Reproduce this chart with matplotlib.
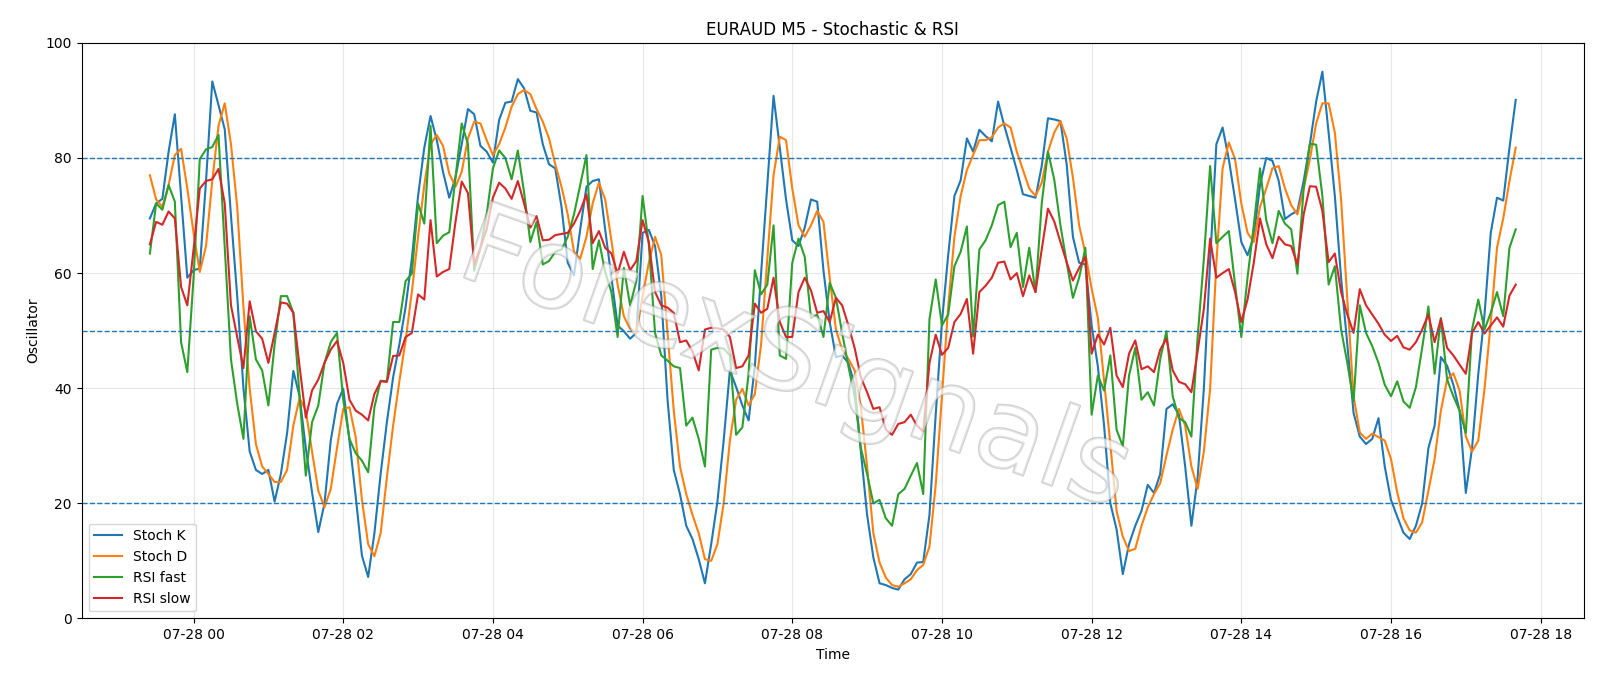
import numpy as np
import pandas as pd
import matplotlib
matplotlib.use("Agg")
import matplotlib.pyplot as plt
import matplotlib.dates as mdates
import matplotlib.patheffects as pe

# 5-minute bars, 2025-07-27 23:25 .. 2025-07-28 17:40
start = "2025-07-27 23:25"

stoch_k = [
    69.5, 72.1, 72.9, 81.1, 87.6, 73.4, 59.2, 60.5, 60.8, 76, 93.3, 89.2, 85.0, 70, 56, 40,
    29, 25.8, 25.1, 25.8, 20.3, 25.1, 32.2, 43, 38.6, 29.6, 21.9, 15, 20, 30.9, 37.3, 39.9,
    30.9, 21.2, 10.9, 7.2, 14.8, 25.1, 34.1, 41.9, 47.6, 54.1, 62.5, 73.4, 81.8, 87.3, 83.1,
    77.6, 73.1, 76.6, 82.4, 88.5, 87.6, 82.1, 81.1, 79.2, 86.6, 89.6, 89.8, 93.7, 92.1, 88.2, 87.9,
    82.4, 78.9, 78.2, 71.5, 61.8, 59.6, 67.6, 75, 76, 76.3, 67.6, 59.2, 50.9, 49.9, 48.6,
    49.6, 67, 67.5, 64.7, 56, 38, 25.8, 21.6, 16.1, 13.8, 10.3, 6.1, 12.9, 20.3, 30.9, 43.1,
    40.2, 37, 34.4, 43.8, 59.9, 75.3, 90.8, 81.8, 72.8, 65.7, 64.7, 67.9, 72.8, 72.4, 60.5, 51.5,
    45.4, 45.7, 44.4, 40.6, 29, 18, 10.6, 6.1, 5.8, 5.3, 5, 6.8, 7.7, 9.7, 9.8, 18,
    35.4, 51.5, 63.1, 73.4, 76.1, 83.4, 81.1, 84.9, 83.8, 82.9, 89.8, 85.6, 81.8, 77.9, 73.7,
    73.4, 73.1, 78.6, 86.9, 86.7, 86.4, 78.9, 66.3, 61.8, 61.5, 50.9, 43.8, 33.5, 20, 15.5, 7.7,
    12.9, 16.1, 18.7, 23.2, 21.8, 25.1, 36.4, 37.2, 35.4, 26.4, 16.1, 24.5, 40, 62, 82.4, 85.3,
    79.8, 72.8, 65.4, 63.1, 66.3, 75.3, 80, 79.5, 76, 69.4, 70.2, 70.8, 76, 82.4, 89.8,
    95, 84.4, 73.4, 59.2, 47.6, 35.7, 31.6, 30.3, 31.2, 34.8, 26.4, 20.6, 17.7, 14.9, 13.8, 16.1,
    20, 29.6, 33.5, 45.4, 43.9, 40.6, 36.1, 21.8, 29.6, 42.5, 52.8, 67, 73.1, 72.6, 81.8, 90.1,
]

stoch_d = [
    77, 72.8, 71.5, 75.3, 80.5, 81.6, 74.7, 67, 60.2, 64.7, 76, 85.6, 89.5, 82.4, 71.5, 54.1,
    39.9, 30.3, 26.4, 25.1, 23.7, 23.7, 25.8, 33.5, 38.3, 36.1, 29, 22.2, 19.3, 22.5, 29.6, 36.4,
    36.7, 31.5, 20.6, 12.9, 10.8, 14.8, 24.5, 33.5, 41.2, 48.3, 56.7, 66.3, 75.3, 82.4, 84,
    82.1, 77.3, 75, 77.6, 83.4, 86.3, 86, 83.1, 80.5, 82.4, 85.3, 88.9, 91.1, 91.8, 91.1, 88.5,
    86.3, 83.4, 78.9, 75, 70.2, 63.7, 62.5, 66.3, 72.1, 75.7, 72.8, 65.7, 58, 52.5, 50.3,
    49.6, 56, 61.8, 66.3, 63.1, 49.6, 36.1, 26.4, 21.6, 18, 14.8, 10.3, 10, 12.9, 20, 30.9,
    38, 39.9, 37, 39, 47.6, 62.5, 77, 83.7, 83.1, 74.7, 68.3, 66.3, 68.3, 70.8, 68.9, 59.2,
    50.2, 46.7, 45.1, 43.1, 36.7, 26.4, 14.8, 9.7, 7.1, 5.8, 5.5, 6.1, 6.8, 8.4, 9.3, 12.5,
    23.2, 38.6, 54.1, 66.3, 73.4, 77.9, 80.5, 83.1, 83.1, 83.6, 85.3, 86, 85.3, 81.1, 77.9,
    74.7, 73.4, 75.7, 81.1, 84.4, 86.4, 83.4, 76.6, 68.3, 63.4, 57.3, 52.2, 41.2, 30.3, 18.7, 14.2,
    11.7, 12.1, 16.1, 19.3, 21.6, 23.5, 28.3, 32.8, 36.4, 33.5, 26.4, 22.5, 29, 39.9, 61.8, 78.2,
    82.7, 79.8, 72.1, 67, 65.4, 71.5, 74.7, 78.2, 78.6, 74.7, 71.8, 70.2, 74.7, 79.8, 86,
    89.5, 89.5, 84.4, 72.8, 55.4, 38.6, 32.3, 31.2, 32.1, 31.5, 30.9, 27.7, 21.9, 17.4, 15.3, 14.9,
    16.7, 22.2, 27.7, 36.1, 41.5, 42.6, 39.6, 31.6, 29, 30.9, 39.9, 51.5, 64.4, 69.5, 76, 81.8,
]

rsi_fast = [
    63.4, 72.1, 71, 75.3, 72.4, 48, 42.8, 59.2, 79.8, 81.5, 81.9, 84, 64.4, 45, 37.3, 31.2,
    52.5, 45, 43.1, 37, 47.6, 56, 56, 53.1, 38.6, 24.8, 34.1, 37, 44.4, 48, 49.6, 38,
    31.2, 28.7, 27.4, 25.4, 36.7, 41.3, 41.2, 51.5, 51.5, 58.6, 59.9, 72.1, 68.6, 85.6, 65.2,
    66.5, 67.1, 76.6, 86, 82.4, 60.4, 64.4, 70.2, 78.2, 81.3, 80, 76.3, 81.3, 74, 65.4, 68.9,
    61.5, 62.1, 63.7, 64.1, 66.3, 70.2, 75.3, 80.5, 60.7, 65.7, 60.2, 56.7, 48.9, 60.9, 54.4,
    58.6, 73.4, 65, 49.6, 45.7, 44.8, 43.8, 43.5, 33.5, 34.9, 31.2, 26.4, 46.7, 47, 46.9, 45.7,
    31.9, 33.2, 42.5, 60.5, 56.3, 58, 68.3, 45.7, 45.1, 61.8, 66, 62.8, 52.2, 52.8, 48.9, 58.3,
    55.7, 49.6, 43.8, 38.6, 29.6, 25.1, 20, 20.6, 17.4, 16.1, 21.6, 22.5, 24.8, 27, 21.6, 52,
    58.9, 50.9, 52.8, 61.2, 63.7, 68.1, 49, 64.1, 65.7, 68.3, 71.8, 72.4, 64.5, 67, 57.6,
    64.4, 56.7, 72.1, 81.1, 76.3, 68.3, 61.8, 55.7, 59.2, 64.4, 35.4, 42.2, 39.6, 45.7, 32.8, 29.9,
    42.2, 47, 38, 39.3, 37, 45.1, 49.9, 38.6, 34.8, 34.1, 31.6, 48.9, 62.5, 78.6, 65.2, 66.3,
    67.3, 58, 48.9, 59.2, 68.3, 78.2, 69.2, 65.2, 70.8, 68.6, 67.6, 59.9, 74.7, 82.5, 82.3,
    73.4, 58, 61.2, 50.2, 44.4, 37.7, 54.4, 49.6, 47.3, 44.4, 40.6, 38.6, 41.2, 37.7, 36.6, 40.2,
    47, 54.2, 42.5, 52.2, 41.5, 38.6, 36.1, 32.2, 50.2, 55.4, 50.2, 53.1, 56.7, 52.5, 64.4, 67.6,
]

rsi_slow = [
    65, 68.9, 68.4, 70.7, 69.5, 57.6, 54.4, 64.1, 74.7, 76, 76.3, 78.1, 72.1, 54.4, 48.9, 43.5,
    55.1, 49.9, 48.6, 44.4, 49.6, 54.9, 54.7, 53.1, 43.8, 34.9, 39.6, 41.5, 44.4, 46.7, 48.2, 44.4,
    38, 36.1, 35.4, 34.4, 39, 41.2, 41.1, 45.6, 45.7, 48.9, 49.6, 56.3, 55.4, 69.2, 59.4,
    60.2, 60.7, 68.9, 75.9, 73.9, 61.5, 64.4, 67.6, 73.1, 75.7, 74.7, 72.9, 76, 72.1, 67.9, 69.9,
    65.7, 65.8, 66.6, 66.8, 67, 68.6, 70.8, 73.7, 65.2, 67.3, 64.4, 63.4, 59.9, 63.7, 60.5,
    62.1, 69.2, 65.4, 56.7, 54.4, 54, 53.1, 48, 48.3, 46.4, 43.1, 50.2, 50.5, 50.4, 50.2, 48.9,
    43.5, 43.8, 45.7, 54.7, 53.1, 53.8, 59.2, 51.5, 48.9, 48.9, 56.7, 59.2, 57, 53.1, 53.4, 51.5,
    55.7, 54.4, 50.9, 47, 41.9, 39.3, 36.4, 36.7, 32.8, 31.9, 33.8, 34.1, 35.4, 33.5, 32.5, 44.4,
    49.3, 45.8, 47, 51.5, 52.9, 55.5, 46, 56.7, 57.8, 59.2, 61.8, 62, 58.9, 60, 56,
    59.6, 56.7, 64.1, 71.2, 69, 65.4, 61.9, 58.7, 60.9, 62.8, 46, 49.3, 47.6, 50.5, 42.2, 40.2,
    46, 48.3, 43.3, 43.8, 42.8, 46.7, 48.6, 43.1, 41.1, 40.7, 39.3, 46.4, 53.8, 66, 59.2, 60,
    60.7, 56.7, 51.5, 55.4, 61.8, 69.5, 65, 62.6, 66.3, 65, 64.7, 61.5, 70.2, 75.1, 75,
    70.8, 61.9, 63.4, 56.7, 52.8, 49.6, 57.2, 54.4, 52.8, 51.2, 49.3, 48.2, 49.1, 47.1, 46.7, 48,
    50.2, 52.8, 48, 52, 47, 45.7, 44.1, 42.5, 49.6, 51.5, 49.5, 50.9, 52.3, 50.7, 56.1, 58,
]

levels = [80, 50, 20]

assert len(stoch_k) == len(stoch_d) == len(rsi_fast) == len(rsi_slow), (
    len(stoch_k), len(stoch_d), len(rsi_fast), len(rsi_slow))

t = pd.date_range(start, periods=len(stoch_k), freq="5min")

fig, ax = plt.subplots(figsize=(16, 6.86), dpi=100)
fig.subplots_adjust(left=0.051, right=0.990, top=0.9375, bottom=0.0985)

ax.plot(t, stoch_k, label="Stoch K", lw=1.5)
ax.plot(t, stoch_d, label="Stoch D", lw=1.5)
ax.plot(t, rsi_fast, label="RSI fast", lw=1.5)
ax.plot(t, rsi_slow, label="RSI slow", lw=1.5)
for lv in levels:
    ax.axhline(lv, ls="--", lw=1, color="tab:blue")

ax.set_ylim(0, 100)
ax.set_title("EURAUD M5 - Stochastic & RSI")
ax.set_xlabel("Time")
ax.set_ylabel("Oscillator")
ax.grid(True, alpha=0.3)
ax.xaxis.set_major_locator(mdates.HourLocator(interval=2))
ax.xaxis.set_major_formatter(mdates.DateFormatter("%m-%d %H"))
ax.legend(loc="lower left")

# watermark
ax.text(0.475, 0.445, "ForexSignals", transform=ax.transAxes, fontsize=80,
        rotation=-19.5, ha="center", va="center", color=(1, 1, 1, 0.45),
        zorder=5,
        path_effects=[pe.Stroke(linewidth=1.8, foreground=(0.55, 0.55, 0.55, 0.4)),
                      pe.Normal()])

fig.savefig("out.png", dpi=100)
